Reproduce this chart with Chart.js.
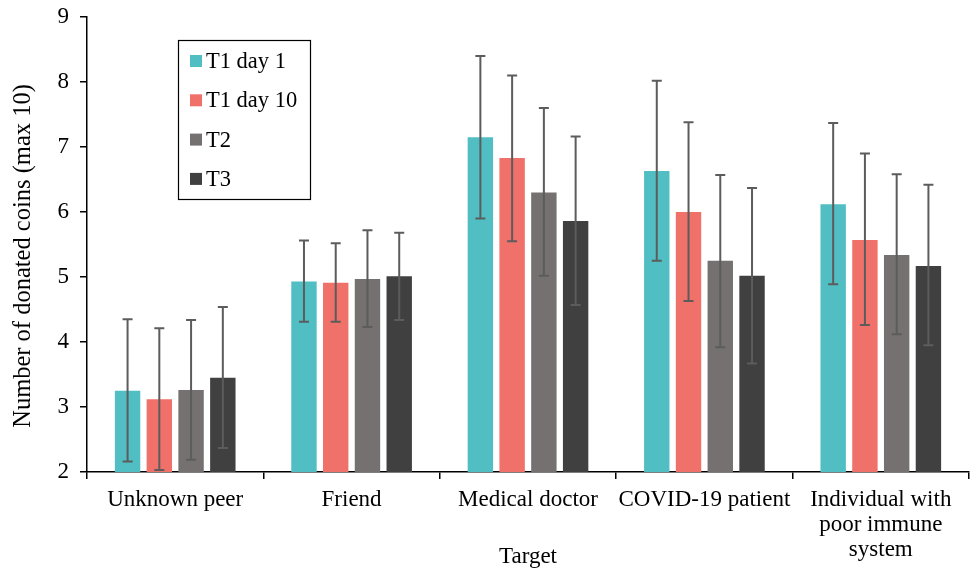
<!DOCTYPE html>
<html><head><meta charset="utf-8">
<script src="https://cdn.jsdelivr.net/npm/chart.js@4.4.0/dist/chart.umd.min.js"></script>
<style>html,body{margin:0;padding:0;background:#fff}#wrap{width:972px;height:574px}</style>
</head><body><div id="wrap"><canvas id="c" width="972" height="574"></canvas></div>
<script>
const categories = ['Unknown peer', 'Friend', 'Medical doctor', 'COVID-19 patient', ['Individual with', 'poor immune', 'system']];
const seriesNames = ['T1 day 1', 'T1 day 10', 'T2', 'T3'];
const t1d1 = [3.25, 4.93, 7.15, 6.63, 6.12];
const t1d10 = [3.12, 4.91, 6.83, 6.00, 5.57];
const t2 = [3.26, 4.97, 6.30, 5.25, 5.34];
const t3 = [3.45, 5.01, 5.86, 5.02, 5.17];
const t1d1Hi = [4.35, 5.56, 8.40, 8.02, 7.37];
const t1d1Lo = [2.16, 4.31, 5.90, 5.25, 4.89];
const t1d10Hi = [4.21, 5.52, 8.10, 7.38, 6.90];
const t1d10Lo = [2.03, 4.31, 5.55, 4.63, 4.26];
const t2Hi = [4.34, 5.72, 7.60, 6.57, 6.58];
const t2Lo = [2.19, 4.23, 5.02, 3.92, 4.12];
const t3Hi = [4.54, 5.68, 7.16, 6.37, 6.42];
const t3Lo = [2.37, 4.34, 4.57, 3.67, 3.95];
const yTicks = [2, 3, 4, 5, 6, 7, 8, 9];
const yTitle = 'Number of donated coins (max 10)';
const xTitle = 'Target';
const colors = ['#50BEC3', '#F0716A', '#757170', '#404040'];

const values = [t1d1, t1d10, t2, t3];
const highs = [t1d1Hi, t1d10Hi, t2Hi, t3Hi];
const lows = [t1d1Lo, t1d10Lo, t2Lo, t3Lo];

const FONT = '"Liberation Serif", "Times New Roman", serif';

const errorBars = {
  id: 'errorBars',
  afterDatasetsDraw(chart) {
    const ctx = chart.ctx, y = chart.scales.y;
    ctx.save();
    ctx.strokeStyle = '#5c5c5c';
    ctx.lineWidth = 2;
    chart.data.datasets.forEach((ds, i) => {
      const meta = chart.getDatasetMeta(i);
      meta.data.forEach((bar, j) => {
        const x = bar.x;
        const yh = y.getPixelForValue(ds.hi[j]);
        const yl = y.getPixelForValue(ds.lo[j]);
        ctx.beginPath();
        ctx.moveTo(x, yh); ctx.lineTo(x, yl);
        ctx.moveTo(x - 5, yh); ctx.lineTo(x + 5, yh);
        ctx.moveTo(x - 5, yl); ctx.lineTo(x + 5, yl);
        ctx.stroke();
      });
    });
    ctx.restore();
  }
};

const boxLegend = {
  id: 'boxLegend',
  afterDraw(chart) {
    const ctx = chart.ctx;
    ctx.save();
    const bx = 178.5, by = 40.5, bw = 132, bh = 159;
    ctx.strokeStyle = '#000';
    ctx.lineWidth = 1.2;
    ctx.strokeRect(bx, by, bw, bh);
    ctx.font = '22.5px ' + FONT;
    ctx.textBaseline = 'middle';
    chart.data.datasets.forEach((ds, i) => {
      const cy = 61 + i * 39.3;
      ctx.fillStyle = ds.backgroundColor;
      ctx.fillRect(190, cy - 6, 12, 12);
      ctx.fillStyle = '#000';
      ctx.fillText(ds.label, 206, cy + 1);
    });
    // y axis title
    ctx.save();
    ctx.translate(24, 256);
    ctx.rotate(-Math.PI / 2);
    ctx.font = '24.5px ' + FONT;
    ctx.textAlign = 'center';
    ctx.textBaseline = 'middle';
    ctx.fillStyle = '#000';
    ctx.fillText(yTitle, 0, 0);
    ctx.restore();
    ctx.restore();
  }
};

new Chart(document.getElementById('c'), {
  type: 'bar',
  data: {
    labels: categories,
    datasets: seriesNames.map((n, i) => ({
      label: n,
      data: values[i],
      hi: highs[i],
      lo: lows[i],
      backgroundColor: colors[i],
      borderWidth: 0,
      categoryPercentage: 0.72,
      barPercentage: 0.8
    }))
  },
  options: {
    responsive: false,
    animation: false,
    devicePixelRatio: 1,
    layout: { padding: { top: 17, right: 3, left: 0, bottom: 0 } },
    plugins: { legend: { display: false }, tooltip: { enabled: false } },
    scales: {
      x: {
        grid: { display: true, drawOnChartArea: false, drawTicks: true, tickLength: 7, offset: true, color: '#000', lineWidth: 1.5 },
        border: { display: true, color: '#000', width: 1.5 },
        ticks: { color: '#000', font: { family: FONT, size: 23, lineHeight: 1.07 }, padding: 9, maxRotation: 0, autoSkip: false },
        title: { display: true, text: xTitle, color: '#000', font: { family: FONT, size: 23 }, padding: { top: 0, bottom: 3 } },
        afterFit(s) { s.height = 102; }
      },
      y: {
        min: 2, max: 9,
        afterBuildTicks(s) { s.ticks = yTicks.map(v => ({ value: v })); },
        grid: { display: true, drawOnChartArea: false, drawTicks: true, tickLength: 7, color: '#000', lineWidth: 1.5 },
        border: { display: true, color: '#000', width: 1.5 },
        ticks: { color: '#000', font: { family: FONT, size: 23 }, padding: 11 },
        title: { display: false },
        afterFit(s) { s.width = 87; s.paddingTop = 0; s.paddingBottom = 0; }
      }
    }
  },
  plugins: [errorBars, boxLegend]
});
</script></body></html>
